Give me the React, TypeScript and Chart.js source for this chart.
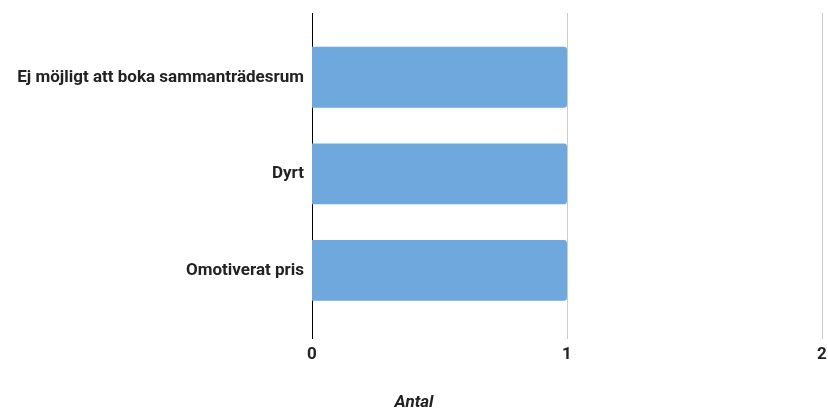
import React, { useEffect, useRef } from "react";
import { Chart, registerables } from "chart.js";

Chart.register(...registerables);

const categories = ["Ej möjligt att boka sammanträdesrum", "Dyrt", "Omotiverat pris"];
const values = [1, 1, 1];
const axisTitle = "Antal";
const xMin = 0;
const xMax = 2;

const GRID_TOP = 13;
const GRID_BOTTOM = 339;

const gridPlugin = {
  id: "fullGrid",
  beforeDatasetsDraw(chart: any) {
    const x = chart.scales.x;
    const ctx = chart.ctx;
    ctx.save();
    ctx.lineWidth = 1;
    x.ticks.forEach((t: any, i: number) => {
      const px = Math.round(x.getPixelForValue(t.value)) + 0.5;
      ctx.strokeStyle = i === 0 ? "#000" : "#cccccc";
      ctx.beginPath();
      ctx.moveTo(px, GRID_TOP);
      ctx.lineTo(px, GRID_BOTTOM);
      ctx.stroke();
    });
    ctx.restore();
  },
};

export default function App() {
  const ref = useRef<HTMLCanvasElement | null>(null);
  useEffect(() => {
    if (!ref.current) return;
    const chart = new Chart(ref.current, {
      type: "bar",
      data: {
        labels: categories,
        datasets: [
          {
            data: values,
            backgroundColor: "#6fa8dc",
            borderRadius: 3,
            borderSkipped: "start",
            barPercentage: 0.63,
            categoryPercentage: 1,
          },
        ],
      },
      plugins: [gridPlugin],
      options: {
        indexAxis: "y",
        animation: false,
        responsive: false,
        layout: { padding: { top: 29, right: 0, left: 0, bottom: 0 } },
        plugins: {
          legend: { display: false },
          tooltip: { enabled: false },
          title: {
            display: true,
            text: axisTitle,
            position: "bottom",
            color: "#222",
            font: { family: "Roboto", size: 17, weight: "bold", style: "italic" },
            padding: { top: 18, bottom: 2 },
          },
        },
        scales: {
          x: {
            min: xMin,
            max: xMax,
            ticks: {
              stepSize: 1,
              color: "#222",
              font: { family: "Roboto", size: 17, weight: "bold" },
              padding: 6,
            },
            grid: {
              display: false,
              tickLength: 20,
            },
            border: { display: false },
            afterFit: (s: any) => {
              s.height = 56;
              s.paddingRight = 6;
              s.paddingLeft = 0;
            },
          },
          y: {
            ticks: {
              color: "#222",
              font: { family: "Roboto", size: 17, weight: "bold" },
              padding: 8,
            },
            grid: { display: false, drawTicks: false },
            border: { display: false },
            afterFit: (s: any) => {
              s.width = 312;
            },
          },
        },
      },
    });
    return () => chart.destroy();
  }, []);
  return (
    <div style={{ position: "fixed", left: 0, top: 0, width: 828, height: 415, background: "#fff" }}>
      <canvas ref={ref} width={828} height={415} style={{ width: 828, height: 415 }} />
    </div>
  );
}
